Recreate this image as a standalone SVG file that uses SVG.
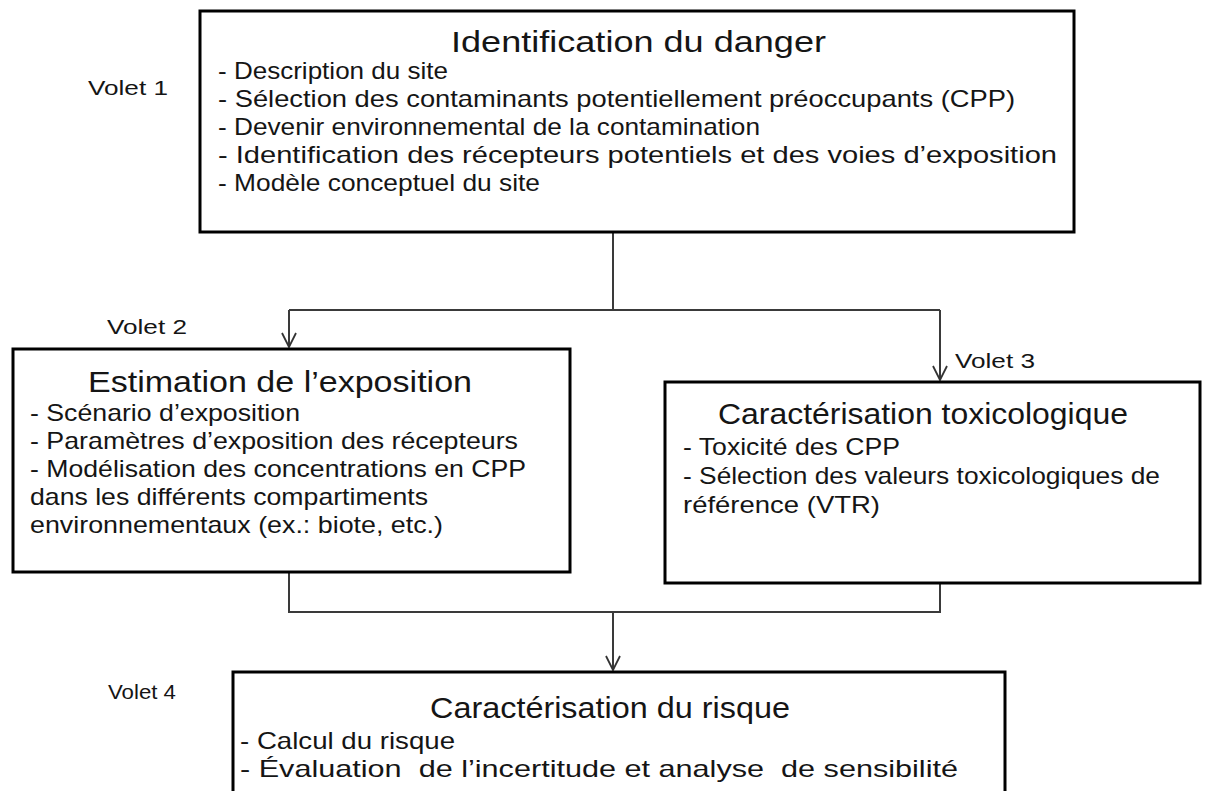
<svg xmlns="http://www.w3.org/2000/svg" width="1205" height="791" viewBox="0 0 1205 791">
<defs>
<marker id="arr" viewBox="0 0 20 20" refX="18" refY="10" markerWidth="20" markerHeight="20" markerUnits="userSpaceOnUse" orient="auto">
<path d="M4,3 L18,10 L4,17" fill="none" stroke="#333" stroke-width="1.8"/>
</marker>
<style>
.box{fill:#fff;stroke:#000;stroke-width:3}
.t{font-family:"Liberation Sans",Arial,sans-serif;fill:#151515}
.title{font-size:30px}
.body{font-size:24px}
.vol{font-size:21px}
.con{fill:none;stroke:#3a3a3a;stroke-width:2}
</style>
</defs>
<rect width="1205" height="791" fill="#fff"/>
<g id="connectors">
<path class="con" d="M613,232 V310 M289,310 H940"/>
<path class="con" d="M289,310 V347" marker-end="url(#arr)"/>
<path class="con" d="M940,310 V380" marker-end="url(#arr)"/>
<path class="con" d="M289,572 V612 H940 V583"/>
<path class="con" d="M613,612 V670" marker-end="url(#arr)"/>
</g>
<g id="volets">
<text class="t vol" x="88" y="95" textLength="80" lengthAdjust="spacingAndGlyphs">Volet 1</text>
<text class="t vol" x="107" y="334" textLength="80" lengthAdjust="spacingAndGlyphs">Volet 2</text>
<text class="t vol" x="955" y="368" textLength="80" lengthAdjust="spacingAndGlyphs">Volet 3</text>
<text class="t vol" x="108" y="699" textLength="68" lengthAdjust="spacingAndGlyphs">Volet 4</text>
</g>
<g id="n1">
<rect class="box" x="200" y="11" width="874" height="221"/>
<text class="t title" x="451" y="52" textLength="375" lengthAdjust="spacingAndGlyphs">Identification du danger</text>
<text class="t body" x="218" y="79" textLength="230" lengthAdjust="spacingAndGlyphs">- Description du site</text>
<text class="t body" x="218" y="107" textLength="797" lengthAdjust="spacingAndGlyphs">- Sélection des contaminants potentiellement préoccupants (CPP)</text>
<text class="t body" x="218" y="135" textLength="542" lengthAdjust="spacingAndGlyphs">- Devenir environnemental de la contamination</text>
<text class="t body" x="218" y="163" textLength="839" lengthAdjust="spacingAndGlyphs">- Identification des récepteurs potentiels et des voies d’exposition</text>
<text class="t body" x="218" y="191" textLength="322" lengthAdjust="spacingAndGlyphs">- Modèle conceptuel du site</text>
</g>
<g id="n2">
<rect class="box" x="13" y="349" width="557" height="223"/>
<text class="t title" x="88" y="392" textLength="384" lengthAdjust="spacingAndGlyphs">Estimation de l’exposition</text>
<text class="t body" x="30" y="421" textLength="270" lengthAdjust="spacingAndGlyphs">- Scénario d’exposition</text>
<text class="t body" x="30" y="449" textLength="488" lengthAdjust="spacingAndGlyphs">- Paramètres d’exposition des récepteurs</text>
<text class="t body" x="30" y="477" textLength="496" lengthAdjust="spacingAndGlyphs">- Modélisation des concentrations en CPP</text>
<text class="t body" x="30" y="505" textLength="398" lengthAdjust="spacingAndGlyphs">dans les différents compartiments</text>
<text class="t body" x="30" y="533" textLength="413" lengthAdjust="spacingAndGlyphs">environnementaux (ex.: biote, etc.)</text>
</g>
<g id="n3">
<rect class="box" x="665" y="382" width="535" height="201"/>
<text class="t title" x="718" y="424" textLength="410" lengthAdjust="spacingAndGlyphs">Caractérisation toxicologique</text>
<text class="t body" x="683" y="455" textLength="217" lengthAdjust="spacingAndGlyphs">- Toxicité des CPP</text>
<text class="t body" x="683" y="484" textLength="477" lengthAdjust="spacingAndGlyphs">- Sélection des valeurs toxicologiques de</text>
<text class="t body" x="683" y="513" textLength="197" lengthAdjust="spacingAndGlyphs">référence (VTR)</text>
</g>
<g id="n4">
<rect class="box" x="233" y="672" width="772" height="140"/>
<text class="t title" x="430" y="718" textLength="360" lengthAdjust="spacingAndGlyphs">Caractérisation du risque</text>
<text class="t body" x="240" y="749" textLength="215" lengthAdjust="spacingAndGlyphs">- Calcul du risque</text>
<text class="t body" x="240" y="777" textLength="718" lengthAdjust="spacingAndGlyphs" style="white-space:pre">- Évaluation  de l’incertitude et analyse  de sensibilité</text>
</g>
</svg>
